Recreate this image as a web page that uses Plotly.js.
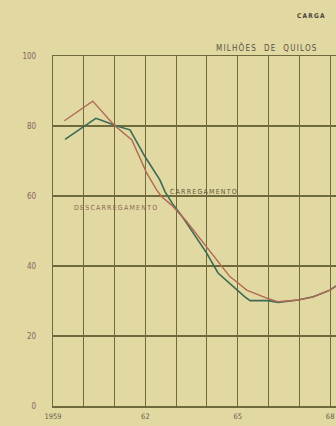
<!DOCTYPE html>
<html>
<head>
<meta charset="utf-8">
<script src="https://cdn.plot.ly/plotly-3.0.1.min.js"></script>
<style>
html,body{margin:0;padding:0;background:#e1d8a2;}
#chart{width:336px;height:426px;}
.annotation-text{letter-spacing:1.2px;}
</style>
</head>
<body>
<div id="chart"></div>
<script>
// Descarregamento (red) line
var descX = [1959.37, 1960.29, 1960.98, 1961.56, 1962.04, 1962.37, 1962.53, 1962.85, 1963.34, 1963.99, 1964.31, 1964.75, 1964.96, 1965.29, 1965.94, 1966.3, 1966.95, 1967.44, 1968.0, 1968.19];
var descY = [81.5, 87.1, 80.3, 76.0, 66.6, 61.7, 59.8, 57.4, 52.7, 45.5, 41.7, 36.9, 35.5, 33.1, 30.8, 29.8, 30.3, 31.1, 33.1, 34.3];
// Carregamento (green) line
var carX = [1959.39, 1960.39, 1960.55, 1961.07, 1961.5, 1961.99, 1962.47, 1962.64, 1962.91, 1963.23, 1963.99, 1964.36, 1965.23, 1965.4, 1965.99, 1966.31, 1966.96, 1967.45, 1967.99, 1968.19];
var carY = [76.2, 82.2, 81.7, 80.0, 78.9, 71.2, 64.6, 61.2, 57.4, 53.7, 43.7, 38.0, 31.2, 30.1, 30.1, 29.6, 30.3, 31.2, 33.1, 34.3];
// Axis ticks
var xTickVals = [1959, 1962, 1965, 1968];
var xTickText = ['1959', '62', '65', '68'];
var yTickVals = [0, 20, 40, 60, 80, 100];
var yTickText = ['0', '20', '40', '60', '80', '100'];

var grid = '#6e6a3e';
var txt = '#5e5640';

var traces = [
  {x: carX, y: carY, mode: 'lines', name: 'Carregamento',
   line: {color: '#3e6a55', width: 1.6}},
  {x: descX, y: descY, mode: 'lines', name: 'Descarregamento',
   line: {color: '#b06a55', width: 1.4}}
];

var layout = {
  width: 336, height: 426,
  margin: {l: 53, r: 0, t: 56, b: 20},
  paper_bgcolor: '#e1d8a2',
  plot_bgcolor: '#e1d8a2',
  showlegend: false,
  font: {family: 'DejaVu Sans Condensed, DejaVu Sans', size: 8, color: txt},
  xaxis: {
    range: [1959, 1968.19],
    tickvals: xTickVals, ticktext: xTickText,
    showgrid: true, gridcolor: grid, gridwidth: 1,
    minor: {tick0: 1959, dtick: 1, showgrid: true, gridcolor: grid, gridwidth: 1},
    zeroline: false,
    showline: true, linecolor: grid, linewidth: 1.5, mirror: true,
    ticks: 'outside', ticklen: 2, tickcolor: 'rgba(0,0,0,0)',
    tickfont: {size: 7.5, color: '#6a6050'}
  },
  yaxis: {
    range: [0, 100],
    tickvals: yTickVals, ticktext: yTickText,
    showgrid: true, gridcolor: grid, gridwidth: 1.5,
    zeroline: false,
    showline: true, linecolor: grid, linewidth: 1.2,
    ticks: 'outside', ticklen: 14, tickcolor: 'rgba(0,0,0,0)',
    tickfont: {size: 8, color: '#8a6260'}
  },
  annotations: [
    {xref: 'paper', yref: 'paper', x: 0.915, y: 1.115, text: '<b>CARGA</b>', showarrow: false,
     xanchor: 'center', yanchor: 'middle', font: {size: 6.5, color: '#4a4438'}},
    {xref: 'paper', yref: 'paper', x: 0.755, y: 1.025, text: 'MILHÕES  DE  QUILOS', showarrow: false,
     xanchor: 'center', yanchor: 'middle', font: {size: 8, color: '#5a5244'}},
    {xref: 'x', yref: 'y', x: 1963.9, y: 61.1, text: 'CARREGAMENTO', showarrow: false,
     xanchor: 'center', yanchor: 'middle', font: {size: 7, color: '#5e5438'}},
    {xref: 'x', yref: 'y', x: 1961.05, y: 56.6, text: 'DESCARREGAMENTO', showarrow: false,
     xanchor: 'center', yanchor: 'middle', font: {size: 7, color: '#8a6a58'}}
  ]
};

Plotly.newPlot('chart', traces, layout, {staticPlot: true, displayModeBar: false});
</script>
</body>
</html>
